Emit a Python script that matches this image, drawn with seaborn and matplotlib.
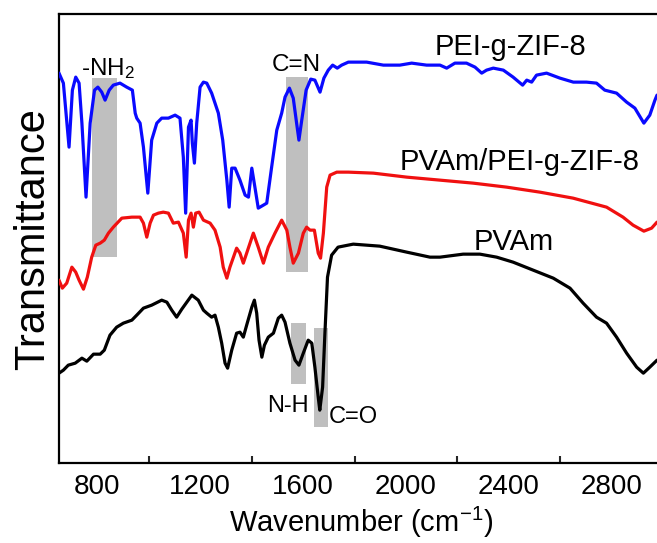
import seaborn as sns
import pandas as pd
import matplotlib.pyplot as plt

# FTIR spectra, transmittance in arbitrary units (curves offset for clarity)
wn_zif = [652, 669, 691, 704, 717, 730, 741, 757, 773, 790, 803, 818, 831, 847, 863, 889, 915, 937,
          948, 954, 967, 980, 997, 1012, 1032, 1051, 1077, 1103, 1122, 1135, 1144, 1155, 1165, 1170,
          1178, 1187, 1200, 1213, 1226, 1245, 1271, 1288, 1304, 1313, 1323, 1336, 1355, 1375, 1388,
          1401, 1413, 1426, 1446, 1459, 1478, 1498, 1517, 1530, 1547, 1562, 1575, 1584, 1595, 1612,
          1630, 1646, 1666, 1681, 1698, 1715, 1733, 1750, 1776, 1847, 1912, 1976, 2022, 2080, 2132,
          2158, 2190, 2235, 2268, 2294, 2313, 2339, 2378, 2416, 2453, 2469, 2488, 2507, 2546, 2598,
          2650, 2701, 2740, 2772, 2818, 2857, 2889, 2924, 2947, 2967, 2975]
t_zif = [388, 378, 314, 371, 384, 378, 338, 264, 338, 371, 374, 369, 361, 371, 376, 378, 374, 371,
         348, 343, 338, 314, 268, 321, 338, 343, 343, 346, 343, 304, 248, 334, 341, 318,
         298, 338, 374, 379, 378, 368, 348, 321, 281, 254, 293, 293, 281, 266, 264,
         293, 274, 253, 256, 258, 294, 331, 348, 364, 373, 363, 338, 321, 341, 371,
         382, 381, 369, 383, 391, 396, 393, 396, 399, 399, 396, 396, 398, 396, 396,
         393, 398, 398, 394, 388, 391, 393, 391, 384, 376, 381, 379, 386, 388, 383,
         379, 379, 378, 371, 368, 359, 353, 338, 346, 361, 366]

wn_blend = [652, 665, 682, 702, 717, 730, 747, 762, 779, 795, 812, 828, 844, 863, 896, 935, 967, 980,
            993, 1006, 1019, 1038, 1057, 1077, 1096, 1116, 1135, 1146, 1155, 1165, 1174, 1183, 1196,
            1213, 1239, 1258, 1278, 1290, 1304, 1316, 1342, 1355, 1368, 1381, 1407, 1426, 1446, 1465,
            1491, 1517, 1537, 1549, 1562, 1582, 1601, 1614, 1627, 1644, 1659, 1668, 1679, 1692, 1705,
            1731, 1776, 1873, 2003, 2132, 2261, 2391, 2520, 2649, 2779, 2843, 2882, 2924, 2954, 2975]
t_blend = [181, 173, 178, 194, 189, 181, 172, 184, 204, 216, 218, 221, 228, 234, 243, 244, 244, 238,
           224, 238, 246, 248, 249, 248, 238, 239, 228, 204, 241, 248, 234, 248, 249,
           241, 238, 231, 214, 194, 183, 194, 213, 208, 198, 208, 228, 214, 198, 214,
           228, 241, 231, 214, 198, 208, 228, 234, 231, 231, 208, 203, 228, 274, 286,
           289, 289, 288, 284, 281, 278, 274, 269, 263, 254, 244, 236, 230, 233, 239]

wn_pvam = [652, 669, 688, 715, 741, 760, 786, 812, 828, 850, 876, 902, 935, 954, 980, 1012, 1051,
           1071, 1090, 1109, 1129, 1168, 1193, 1213, 1226, 1245, 1258, 1271, 1284, 1297, 1307, 1323,
           1342, 1355, 1368, 1381, 1401, 1411, 1420, 1429, 1440, 1450, 1465, 1485, 1504, 1517, 1530,
           1549, 1569, 1584, 1601, 1620, 1634, 1646, 1659, 1665, 1676, 1685, 1695, 1711, 1736, 1775,
           1795, 1898, 2003, 2093, 2132, 2222, 2287, 2352, 2416, 2494, 2572, 2637, 2688, 2740, 2779,
           2818, 2857, 2896, 2922, 2947, 2975]
t_pvam = [88, 91, 96, 98, 103, 100, 107, 107, 111, 126, 134, 138, 141, 146, 153, 156, 161,
          159, 151, 144, 152, 166, 161, 151, 148, 144, 146, 134, 118, 98, 93, 111,
          128, 129, 124, 136, 154, 161, 148, 121, 104, 116, 124, 128, 143, 146, 139,
          118, 101, 96, 108, 121, 118, 94, 64, 51, 74, 128, 184, 206, 214, 216,
          217, 215, 209, 204, 204, 207, 207, 204, 199, 191, 183, 173, 158, 144, 138,
          124, 108, 94, 88, 94, 101]

series_names = ["PEI-g-ZIF-8", "PVAm/PEI-g-ZIF-8", "PVAm"]
series_colors = ["#0a0aff", "#f01010", "#000000"]

# highlighted bands: wavenumber range and vertical extent
band_lo = [782, 1533, 1552, 1642]
band_hi = [876, 1620, 1610, 1698]
band_bottom = [204, 189, 77, 34]
band_top = [383, 384, 138, 133]

df = pd.concat([
    pd.DataFrame({"wn": wn_zif, "T": t_zif, "sample": series_names[0]}),
    pd.DataFrame({"wn": wn_blend, "T": t_blend, "sample": series_names[1]}),
    pd.DataFrame({"wn": wn_pvam, "T": t_pvam, "sample": series_names[2]}),
])

sns.set_theme(style="white")
plt.rcParams['font.family'] = ['Liberation Sans', 'DejaVu Sans']
plt.rcParams['mathtext.fontset'] = 'custom'
plt.rcParams['mathtext.rm'] = 'Liberation Sans'
plt.rcParams['mathtext.default'] = 'regular'
plt.rcParams['text.color'] = 'black'
plt.rcParams['axes.labelcolor'] = 'black'

fig = plt.figure(figsize=(6.57, 5.43), dpi=100)
ax = fig.add_axes([0.0898, 0.147, 0.92, 0.827])

for lo, hi, b, t in zip(band_lo, band_hi, band_bottom, band_top):
    ax.fill_between([lo, hi], b, t, color="#bfbfbf", lw=0, zorder=1)

sns.lineplot(data=df, x="wn", y="T", hue="sample", hue_order=series_names,
             palette=series_colors, estimator=None, sort=False, lw=2.3,
             legend=False, ax=ax, zorder=3)

ax.set_xlim(652, 3000)
ax.set_ylim(-2, 447)
ax.set_xticks([800, 1200, 1600, 2000, 2400, 2800])
ax.set_xticks([1000, 1400, 1800, 2200, 2600], minor=True)
ax.set_yticks([])
ax.tick_params(axis='x', which='major', direction='in', length=10, width=1.5,
               labelsize=20, pad=8, colors='black')
ax.tick_params(axis='x', which='minor', direction='in', length=5, width=1.5, bottom=True)
for s in ax.spines.values():
    s.set_linewidth(1.6)
    s.set_color('black')

ax.set_xlabel("Wavenumber (cm$^{-1}$)", fontsize=21, labelpad=3)
ax.set_ylabel("Transmittance", fontsize=30, labelpad=4)

ax.text(2406, 406, "PEI-g-ZIF-8", fontsize=21, ha='center', va='baseline')
ax.text(2442, 291, "PVAm/PEI-g-ZIF-8", fontsize=21, ha='center', va='baseline')
ax.text(2419, 211, "PVAm", fontsize=21, ha='center', va='baseline')
ax.text(1575, 390, "C=N", fontsize=17.5, ha='center', va='baseline')
ax.text(736, 386, "-NH$_2$", fontsize=17.5, ha='left', va='baseline')
ax.text(1542, 49, "N-H", fontsize=17, ha='center', va='baseline')
ax.text(1701, 38, "C=O", fontsize=17, ha='left', va='baseline')

fig.savefig("out.png", dpi=100)
